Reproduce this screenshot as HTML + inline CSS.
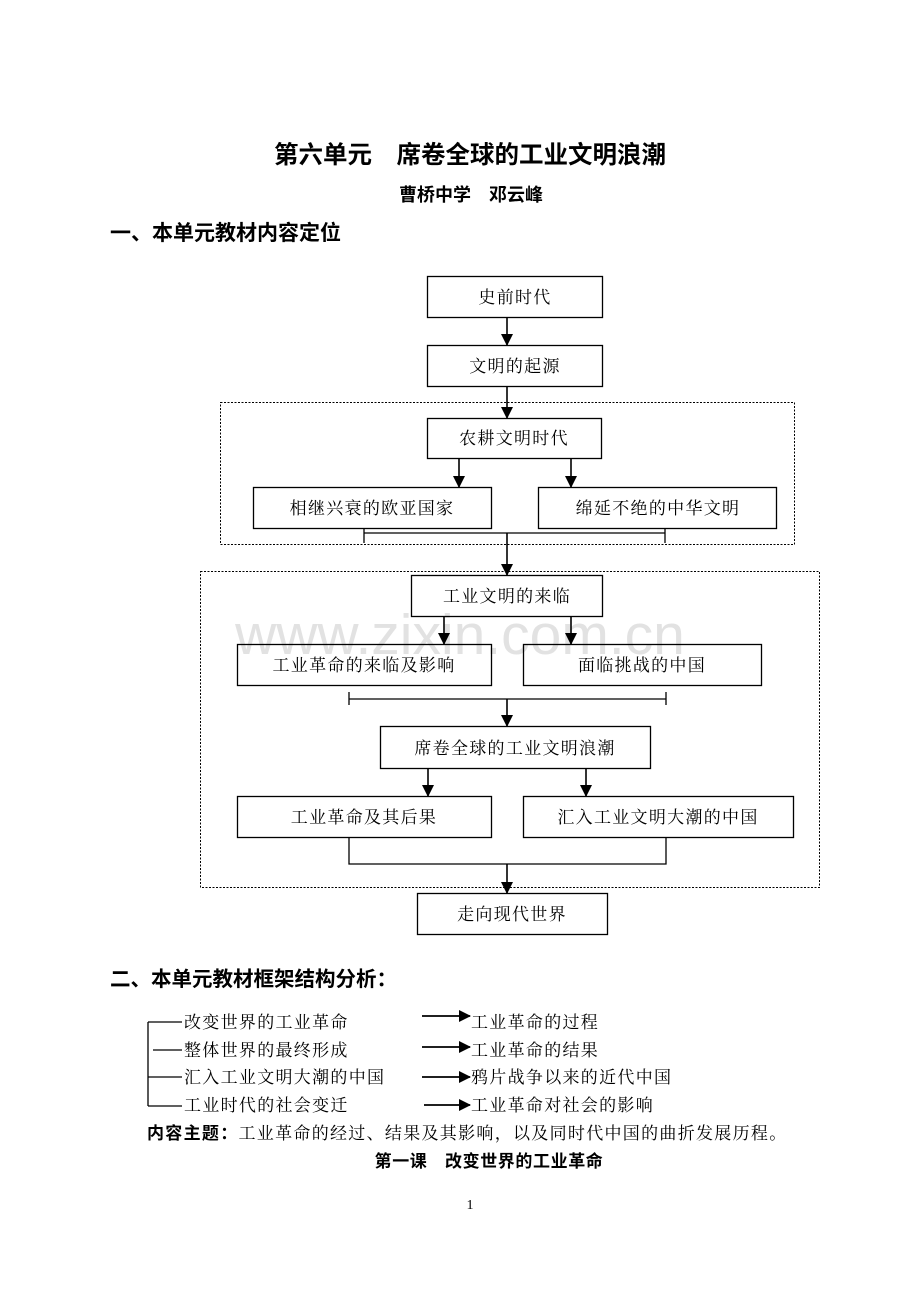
<!DOCTYPE html>
<html><head><meta charset="utf-8"><style>
html,body{margin:0;padding:0;background:#fff;}
svg{display:block;}
text{font-family:"Liberation Serif","Noto Serif CJK SC","Noto Sans CJK SC",serif;fill:#000;}
.b{font-family:"Liberation Sans","Noto Sans CJK SC",sans-serif;font-weight:bold;}
.n{font-size:17px;letter-spacing:1.3px;}
</style></head><body>
<svg width="920" height="1300" viewBox="0 0 920 1300" xmlns="http://www.w3.org/2000/svg">
<defs><marker id="a" markerWidth="12" markerHeight="12" refX="11" refY="6" orient="auto" markerUnits="userSpaceOnUse"><path d="M0,0 L12,6 L0,12z" fill="#000"/></marker></defs>
<text x="470" y="163" text-anchor="middle" class="b" font-size="24.5">第六单元　席卷全球的工业文明浪潮</text>
<text x="471" y="201" text-anchor="middle" class="b" font-size="18">曹桥中学　邓云峰</text>
<text x="110" y="240" class="b" font-size="21">一、本单元教材内容定位</text>

<text x="460" y="654" text-anchor="middle" font-size="57" style="fill:#e2e2e2;font-family:'Liberation Sans',sans-serif">www.zixin.com.cn</text>

<g fill="none" stroke="#000" stroke-width="1.3">
<rect x="220.5" y="402.5" width="574" height="142" stroke-dasharray="2,1.5" stroke-width="1"/>
<rect x="200.5" y="571.5" width="619" height="316" stroke-dasharray="2,1.5" stroke-width="1"/>
<rect x="427.5" y="276.5" width="175" height="41"/>
<rect x="427.5" y="345.5" width="175" height="41"/>
<rect x="427.5" y="418.5" width="174" height="40"/>
<rect x="253.5" y="487.5" width="238" height="41"/>
<rect x="538.5" y="487.5" width="238" height="41"/>
<rect x="411.5" y="575.5" width="191" height="41"/>
<rect x="237.5" y="644.5" width="254" height="41"/>
<rect x="523.5" y="644.5" width="238" height="41"/>
<rect x="380.5" y="726.5" width="270" height="42"/>
<rect x="237.5" y="796.5" width="254" height="41"/>
<rect x="523.5" y="796.5" width="270" height="41"/>
<rect x="417.5" y="893.5" width="190" height="41"/>
<g stroke-width="1.6">
<line x1="507" y1="317" x2="507" y2="345" marker-end="url(#a)"/>
<line x1="507" y1="386" x2="507" y2="418" marker-end="url(#a)"/>
<line x1="459" y1="458" x2="459" y2="487" marker-end="url(#a)"/>
<line x1="571" y1="458" x2="571" y2="487" marker-end="url(#a)"/>
<line x1="507" y1="533" x2="507" y2="575" marker-end="url(#a)"/>
<line x1="444" y1="616" x2="444" y2="644" marker-end="url(#a)"/>
<line x1="571" y1="616" x2="571" y2="644" marker-end="url(#a)"/>
<line x1="507" y1="699" x2="507" y2="726" marker-end="url(#a)"/>
<line x1="428" y1="768" x2="428" y2="796" marker-end="url(#a)"/>
<line x1="586" y1="768" x2="586" y2="796" marker-end="url(#a)"/>
<line x1="507" y1="864" x2="507" y2="893" marker-end="url(#a)"/>
</g>
<path d="M364,533 H665 M364,528 V543 M665,528 V543"/>
<path d="M349,699 H666 M349,692 V705 M666,692 V705"/>
<path d="M349,837 V864 H666 V837"/>
<path d="M148,1022 V1106 M148,1022 H182 M153,1050 H182 M148,1077 H182 M148,1106 H182"/>
<g stroke-width="1.8">
<line x1="422" y1="1016" x2="470" y2="1016" marker-end="url(#a)"/>
<line x1="422" y1="1047" x2="470" y2="1047" marker-end="url(#a)"/>
<line x1="422" y1="1077" x2="470" y2="1077" marker-end="url(#a)"/>
<line x1="424" y1="1105" x2="470" y2="1105" marker-end="url(#a)"/>
</g>
</g>
<g class="n" text-anchor="middle">
<text x="515" y="303">史前时代</text>
<text x="515" y="372">文明的起源</text>
<text x="514" y="444">农耕文明时代</text>
<text x="372" y="514">相继兴衰的欧亚国家</text>
<text x="658" y="514">绵延不绝的中华文明</text>
<text x="507" y="602">工业文明的来临</text>
<text x="364" y="671">工业革命的来临及影响</text>
<text x="642" y="671">面临挑战的中国</text>
<text x="515" y="754">席卷全球的工业文明浪潮</text>
<text x="364" y="823">工业革命及其后果</text>
<text x="658" y="823">汇入工业文明大潮的中国</text>
<text x="512" y="920">走向现代世界</text>
</g>
<text x="110" y="986" class="b" font-size="20.5">二、本单元教材框架结构分析：</text>
<g class="n">
<text x="184" y="1028">改变世界的工业革命</text>
<text x="184" y="1056">整体世界的最终形成</text>
<text x="184" y="1083">汇入工业文明大潮的中国</text>
<text x="184" y="1111">工业时代的社会变迁</text>
<text x="471" y="1028">工业革命的过程</text>
<text x="471" y="1056">工业革命的结果</text>
<text x="471" y="1083">鸦片战争以来的近代中国</text>
<text x="471" y="1111">工业革命对社会的影响</text>
<text x="147" y="1139"><tspan class="b">内容主题：</tspan>工业革命的经过、结果及其影响，以及同时代中国的曲折发展历程。</text>
</g>
<text x="489" y="1167" text-anchor="middle" class="b" font-size="17" letter-spacing="0.6">第一课　改变世界的工业革命</text>
<text x="470" y="1209" text-anchor="middle" font-size="14">1</text>
</svg>
</body></html>
